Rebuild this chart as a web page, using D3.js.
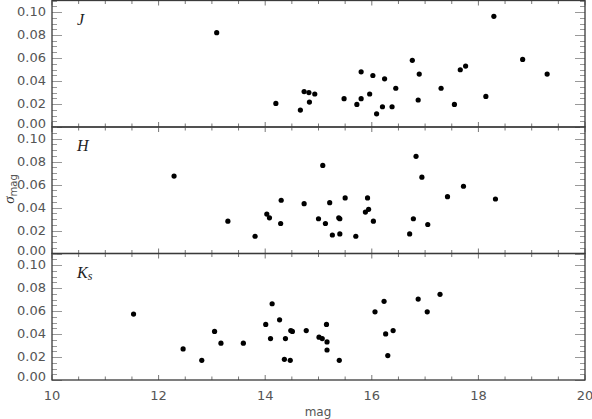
<!DOCTYPE html>
<html>
<head>
<meta charset="utf-8">
<script src="https://d3js.org/d3.v7.min.js"></script>
<style>
  body { margin: 0; background: #fff; }
  text { font-family: "DejaVu Sans", sans-serif; }
</style>
</head>
<body>
<div id="chart"></div>
<script>
// Photometric errors per band
var jMag  = [13.09, 14.20, 14.66, 14.73, 14.82, 14.83, 14.93, 15.48, 15.72, 15.80, 15.80, 15.96, 16.02, 16.09,
             16.20, 16.24, 16.38, 16.45, 16.76, 16.87, 16.89, 17.30, 17.55, 17.66, 17.76, 18.14, 18.29, 18.83, 19.29];
var jSig  = [0.082, 0.0205, 0.0147, 0.0308, 0.0299, 0.0217, 0.0287, 0.0246, 0.0196, 0.048, 0.0246, 0.0287, 0.0448, 0.0115,
             0.0176, 0.0419, 0.0176, 0.0337, 0.058, 0.0235, 0.046, 0.0337, 0.0196, 0.0498, 0.053, 0.0266, 0.0962, 0.0588, 0.046];

var hMag  = [12.29, 13.30, 13.81, 14.03, 14.08, 14.30, 14.29, 14.73, 15.00, 15.08, 15.13, 15.21, 15.26, 15.38, 15.40,
             15.40, 15.50, 15.70, 15.88, 15.92, 15.94, 16.03, 16.71, 16.78, 16.83, 16.94, 17.05, 17.42, 17.72, 18.32];
var hSig  = [0.0673, 0.0281, 0.015, 0.0343, 0.031, 0.0463, 0.0261, 0.0433, 0.0302, 0.0766, 0.0261, 0.0442, 0.0161, 0.031, 0.0302,
             0.017, 0.0483, 0.015, 0.036, 0.0483, 0.0384, 0.0281, 0.017, 0.0302, 0.0845, 0.0664, 0.0252, 0.0494, 0.0585, 0.0474];

var ksMag = [11.53, 12.46, 12.81, 13.05, 13.17, 13.59, 14.01, 14.13, 14.10, 14.27, 14.36, 14.38, 14.47, 14.48, 14.51,
             14.77, 15.01, 15.07, 15.15, 15.16, 15.16, 15.39, 16.06, 16.23, 16.26, 16.30, 16.40, 16.87, 17.04, 17.28];
var ksSig = [0.0573, 0.027, 0.0171, 0.0422, 0.032, 0.032, 0.0483, 0.0663, 0.036, 0.0523, 0.018, 0.036, 0.0171, 0.043, 0.0422,
             0.043, 0.0372, 0.036, 0.0483, 0.0331, 0.0261, 0.0171, 0.0593, 0.0684, 0.0401, 0.0212, 0.043, 0.0704, 0.0593, 0.0745];

var bandNames = ["J", "H", "K"];
var yTicks = [0, 0.02, 0.04, 0.06, 0.08, 0.10];
var xTicks = [10, 12, 14, 16, 18, 20];

var width = 592, height = 419;
var left = 52, right = 585, plotTop = 0.5, panelH = 126.5;
var axisColor = "#3a3a3a", tickColor = "#777", labelColor = "#555";

var svg = d3.select("#chart")
    .append("svg")
    .attr("width", width)
    .attr("height", height);

var x = d3.scaleLinear().domain([10, 20]).range([left, right]);

var bands = [
  { name: bandNames[0], mag: jMag,  sig: jSig },
  { name: bandNames[1], mag: hMag,  sig: hSig },
  { name: bandNames[2], mag: ksMag, sig: ksSig }
];

// minor tick positions
var xMinor = d3.range(10, 20.01, 0.5);
var yMinor = d3.range(0, 0.1101, 0.005);

function isMajorY(d) { return Math.abs(Math.round(d * 50) - d * 50) < 1e-6; }

bands.forEach(function(band, i)
{
    var y0 = plotTop + i * panelH;
    var y = d3.scaleLinear().domain([0, 0.11]).range([y0 + panelH, y0]);
    var g = svg.append("g");

    // x ticks on bottom (up) and top (down) edges
    g.selectAll(".xt")
      .data(xMinor)
      .enter()
      .append("line")
      .attr("x1", function(d) { return x(d); })
      .attr("x2", function(d) { return x(d); })
      .attr("y1", y0 + panelH)
      .attr("y2", function(d) { return y0 + panelH - (d % 2 === 0 ? 5 : 3.5); })
      .attr("stroke", tickColor);
    g.selectAll(".xtt")
      .data(xMinor)
      .enter()
      .append("line")
      .attr("x1", function(d) { return x(d); })
      .attr("x2", function(d) { return x(d); })
      .attr("y1", y0)
      .attr("y2", function(d) { return y0 + (d % 2 === 0 ? 5 : 3.5); })
      .attr("stroke", tickColor);

    // y ticks on left and right edges
    g.selectAll(".yt")
      .data(yMinor)
      .enter()
      .append("line")
      .attr("x1", left)
      .attr("x2", function(d) { return left + (isMajorY(d) ? 10 : 5); })
      .attr("y1", function(d) { return Math.round(y(d)) + 0.5; })
      .attr("y2", function(d) { return Math.round(y(d)) + 0.5; })
      .attr("stroke", "#999");
    g.selectAll(".ytr")
      .data(yMinor)
      .enter()
      .append("line")
      .attr("x1", right)
      .attr("x2", function(d) { return right - (isMajorY(d) ? 10 : 5); })
      .attr("y1", function(d) { return Math.round(y(d)) + 0.5; })
      .attr("y2", function(d) { return Math.round(y(d)) + 0.5; })
      .attr("stroke", "#999");

    // frame
    g.append("rect")
      .attr("x", left)
      .attr("y", y0)
      .attr("width", right - left)
      .attr("height", panelH)
      .attr("fill", "none")
      .attr("stroke", axisColor)
      .attr("stroke-width", 1.3);

    // y tick labels (the 0.00 one sits a little higher, as in the original)
    g.selectAll(".yl")
      .data(yTicks)
      .enter()
      .append("text")
      .attr("x", left - 6)
      .attr("y", function(d) { return y(d) - (d === 0 ? 3.5 : 0.5); })
      .attr("dy", "0.35em")
      .attr("text-anchor", "end")
      .attr("font-size", "13px")
      .attr("fill", labelColor)
      .text(function(d) { return d3.format(".2f")(d); });

    // band name
    var lab = g.append("text")
      .attr("x", 77)
      .attr("y", y0 + 24)
      .style("font-family", "'Liberation Serif', serif")
      .style("font-style", "italic")
      .attr("font-size", "16px")
      .attr("fill", "#222")
      .text(band.name);
    if (i === 2) {
        lab.append("tspan")
          .attr("font-size", "12px")
          .attr("dy", "2")
          .text("s");
    }

    // points
    g.selectAll(".pt")
      .data(band.mag)
      .enter()
      .append("circle")
      .attr("cx", function(d) { return x(d); })
      .attr("cy", function(d, k) { return y(band.sig[k]); })
      .attr("r", 2.6)
      .attr("fill", "#000");
});

// x tick labels
svg.selectAll(".xl")
  .data(xTicks)
  .enter()
  .append("text")
  .attr("x", function(d) { return x(d); })
  .attr("y", 400)
  .attr("text-anchor", "middle")
  .attr("font-size", "13px")
  .attr("fill", labelColor)
  .text(function(d) { return d; });

// axis titles
svg.append("text")
  .attr("x", 318)
  .attr("y", 416)
  .attr("text-anchor", "middle")
  .attr("font-size", "12px")
  .attr("fill", labelColor)
  .text("mag");

var yt = svg.append("text")
  .attr("transform", "translate(14,189) rotate(-90)")
  .attr("text-anchor", "middle")
  .attr("fill", "#333");
yt.append("tspan")
  .style("font-family", "'Liberation Serif', serif")
  .style("font-style", "italic")
  .attr("font-size", "15px")
  .text("σ");
yt.append("tspan")
  .attr("font-size", "10px")
  .attr("dy", "3")
  .attr("fill", labelColor)
  .text("mag");
</script>
</body>
</html>
